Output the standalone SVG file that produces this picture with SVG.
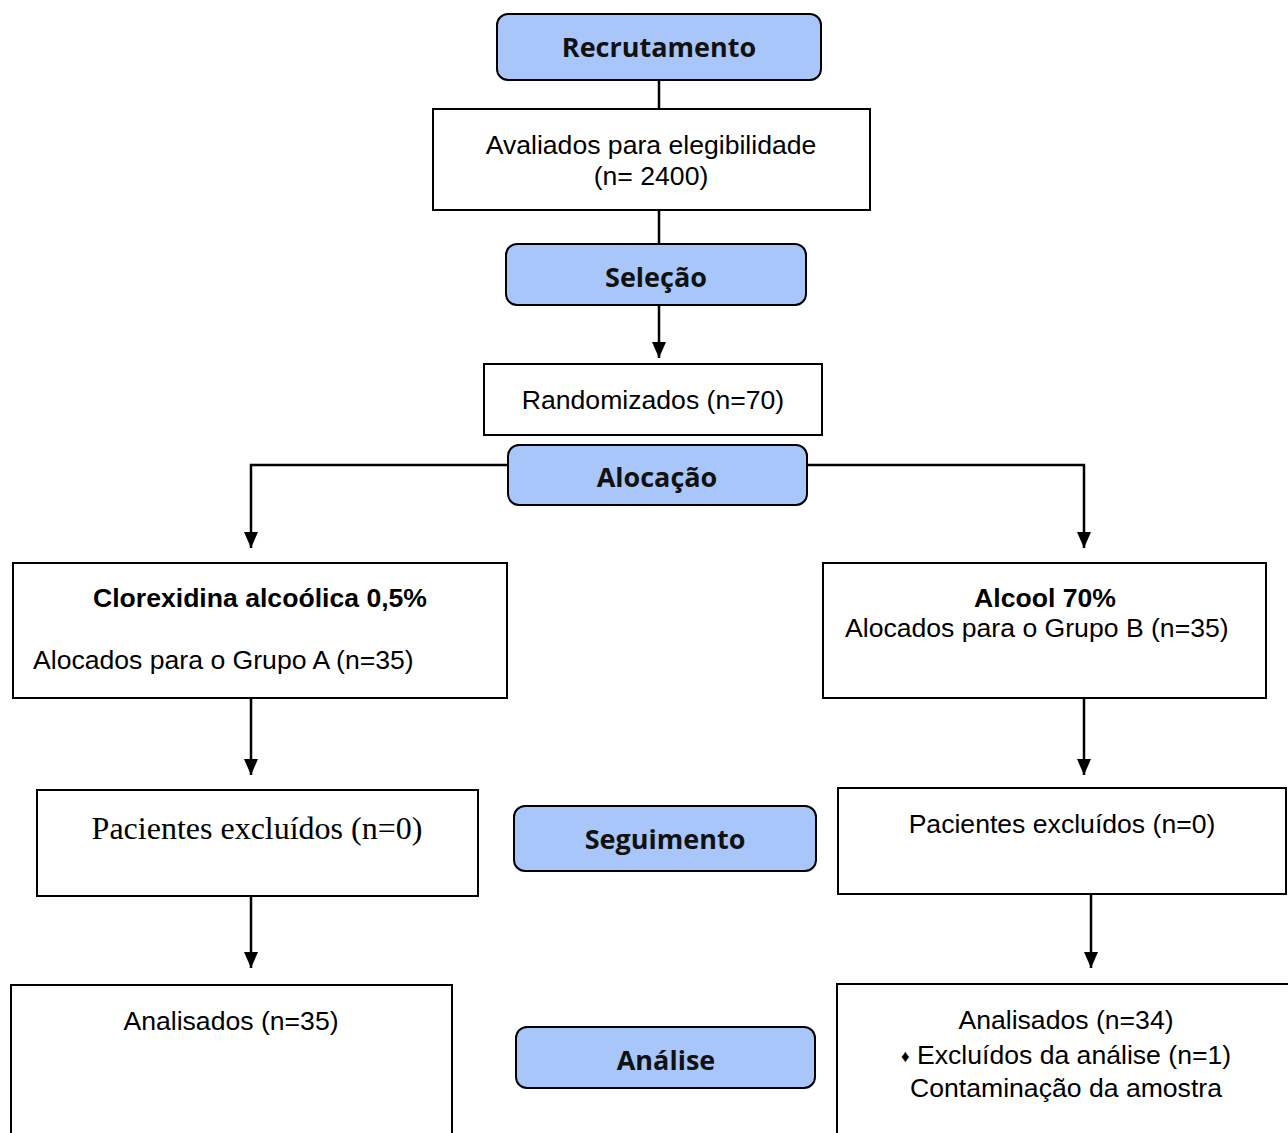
<svg xmlns="http://www.w3.org/2000/svg" width="1288" height="1133" viewBox="0 0 1288 1133">
<defs>
<marker id="ah" markerWidth="16" markerHeight="14" refX="16" refY="7" orient="auto" markerUnits="userSpaceOnUse" viewBox="0 0 16 14">
<path d="M0,0 L16,7 L0,14 Z" fill="#000"/>
</marker>
</defs>
<style>
.stage rect{fill:#A8C6FA;stroke:#000;stroke-width:2}
.stage text{font-family:"Open Sans","DejaVu Sans",sans-serif;font-weight:bold;font-size:27px;text-anchor:middle;fill:#111}
.box rect{fill:#fff;stroke:#000;stroke-width:2}
.box text{font-family:"Liberation Sans",Arial,sans-serif;font-size:26.6px;fill:#000}
.c{text-anchor:middle}
.b{font-weight:bold}
.serif{font-family:"Liberation Serif","Times New Roman",serif !important;font-size:32px !important}
#connectors path,#connectors line{stroke:#000;stroke-width:2.5;fill:none}
</style>
<rect width="1288" height="1133" fill="#fff"/>
<g id="connectors">
<line x1="659" y1="80" x2="659" y2="109"/>
<line x1="659" y1="210" x2="659" y2="244"/>
<line x1="659" y1="305" x2="659" y2="358" marker-end="url(#ah)"/>
<path d="M508,465 H251 V548" marker-end="url(#ah)"/>
<path d="M807,465 H1084 V548" marker-end="url(#ah)"/>
<line x1="251" y1="698" x2="251" y2="775" marker-end="url(#ah)"/>
<line x1="1084" y1="698" x2="1084" y2="775" marker-end="url(#ah)"/>
<line x1="251" y1="896" x2="251" y2="968" marker-end="url(#ah)"/>
<line x1="1091" y1="894" x2="1091" y2="968" marker-end="url(#ah)"/>
</g>
<g id="recrutamento" class="stage"><rect x="497" y="14" width="324" height="66" rx="11"/><text x="659" y="57">Recrutamento</text></g>
<g id="avaliados" class="box"><rect x="433" y="109" width="437" height="101"/><text class="c" x="651" y="154">Avaliados para elegibilidade</text><text class="c" x="651" y="185">(n= 2400)</text></g>
<g id="selecao" class="stage"><rect x="506" y="244" width="300" height="61" rx="11"/><text x="656" y="287">Seleção</text></g>
<g id="randomizados" class="box"><rect x="484" y="364" width="338" height="71"/><text class="c" x="653" y="409">Randomizados (n=70)</text></g>
<g id="alocacao" class="stage"><rect x="508" y="445" width="299" height="60" rx="11"/><text x="657" y="487">Alocação</text></g>
<g id="grupoA" class="box"><rect x="13" y="563" width="494" height="135"/><text class="c b" x="260" y="607">Clorexidina alcoólica 0,5%</text><text x="33" y="669">Alocados para o Grupo A (n=35)</text></g>
<g id="grupoB" class="box"><rect x="823" y="563" width="443" height="135"/><text class="c b" x="1045" y="607">Alcool 70%</text><text x="845" y="637">Alocados para o Grupo B (n=35)</text></g>
<g id="excluidosA" class="box"><rect x="37" y="790" width="441" height="106"/><text class="c serif" x="257" y="839">Pacientes excluídos (n=0)</text></g>
<g id="seguimento" class="stage"><rect x="514" y="806" width="302" height="65" rx="11"/><text x="665" y="849">Seguimento</text></g>
<g id="excluidosB" class="box"><rect x="838" y="788" width="448" height="106"/><text class="c" x="1062" y="833">Pacientes excluídos (n=0)</text></g>
<g id="analisadosA" class="box"><rect x="11" y="985" width="441" height="160"/><text class="c" x="231" y="1030">Analisados (n=35)</text></g>
<g id="analise" class="stage"><rect x="516" y="1027" width="299" height="61" rx="11"/><text x="666" y="1070">Análise</text></g>
<g id="analisadosB" class="box"><rect x="837" y="984" width="460" height="160"/><text class="c" x="1066" y="1029">Analisados (n=34)</text><text class="c" x="1066" y="1064"><tspan font-size="17" dy="-2">♦</tspan><tspan dy="2"> Excluídos da análise (n=1)</tspan></text><text class="c" x="1066" y="1097">Contaminação da amostra</text></g>
</svg>
